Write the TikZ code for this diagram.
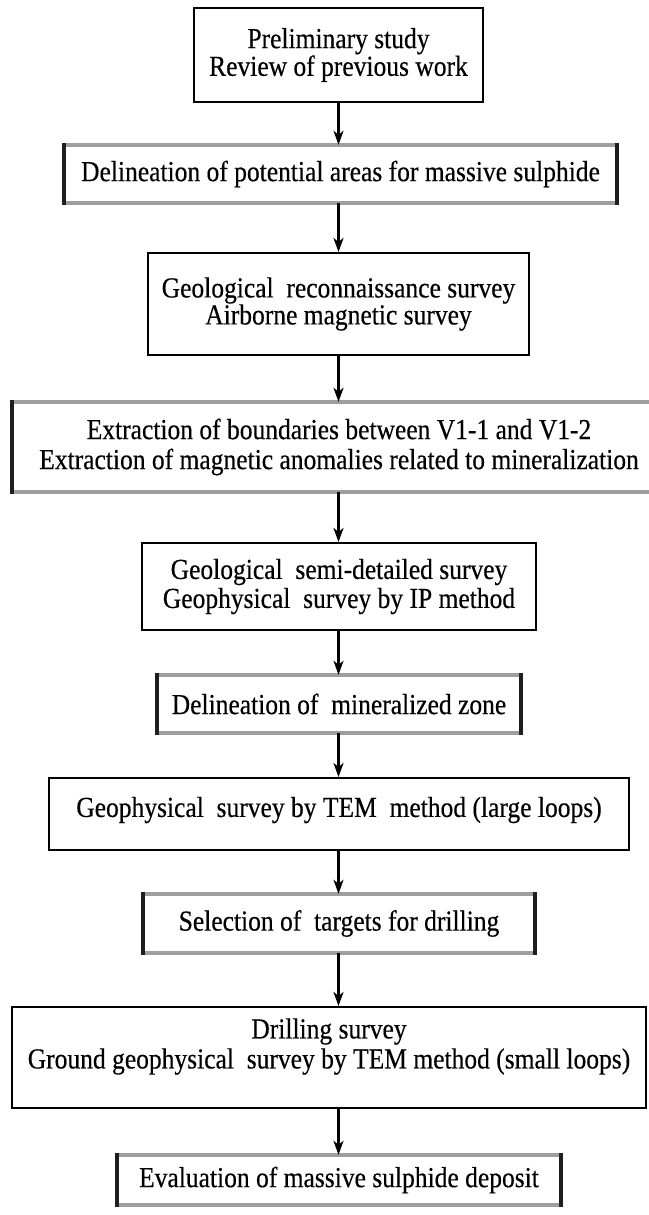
\documentclass[tikz,border=0pt]{standalone}
\usepackage{fontspec}
\setmainfont{Liberation Serif}[FakeStretch=0.88,FakeBold=0.4]
\usetikzlibrary{arrows.meta}
\begin{document}
\begin{tikzpicture}[x=1pt,y=-1pt,
  txt/.style={font=\fontsize{29}{29}\selectfont, align=center, inner sep=0pt},
  plainbox/.style={txt, draw=black, line width=2pt},
  shadedbox/.style={txt, draw=none},
  grayedge/.style={draw=black!38, line width=4.5pt},
  darkedge/.style={draw=black!88, line width=4pt},
  arr/.style={draw=black, line width=2.4pt, -{Stealth[length=14pt,width=10pt,inset=4pt]}}
]
\useasboundingbox (0,0) rectangle (648,1215);

\node[plainbox, minimum width=289pt, minimum height=94pt, font=\fontsize{29}{25}\selectfont]
  (b1) at (338.5,55) {Preliminary study\\Review of previous work};
\node[shadedbox, minimum width=553pt, minimum height=58pt]
  (b2) at (340.5,174) {Delineation of potential areas for massive sulphide};
\node[plainbox, minimum width=381pt, minimum height=102pt, font=\fontsize{29}{27}\selectfont]
  (b3) at (338.5,304) {Geological\ \ reconnaissance survey\\Airborne magnetic survey};
\node[shadedbox, minimum width=654pt, minimum height=90pt, font=\fontsize{29}{30}\selectfont]
  (b4) at (339,447) {Extraction of boundaries between V1-1 and V1-2\\Extraction of magnetic anomalies related to mineralization};
\node[plainbox, minimum width=394pt, minimum height=87pt]
  (b5) at (339,586.5) {Geological\ \ semi-detailed survey\\Geophysical\ \ survey by IP method};
\node[shadedbox, minimum width=364pt, minimum height=58pt]
  (b6) at (339,704) {Delineation of\ \ mineralized zone};
\node[plainbox, minimum width=580pt, minimum height=72pt]
  (b7) at (339,814) {};
\node[txt] (b7t) at ([yshift=4pt]b7.center) {Geophysical\ \ survey by TEM\ \ method (large loops)};
\node[shadedbox, minimum width=392pt, minimum height=59pt]
  (b8) at (339,923.5) {Selection of\ \ targets for drilling};
\node[plainbox, minimum width=634pt, minimum height=101pt]
  (b9) at (329,1057.5) {};
\node[txt, font=\fontsize{29}{30}\selectfont] (b9t) at ([yshift=11pt]b9.center)
  {Drilling survey\\Ground geophysical\ \ survey by TEM method (small loops)};
\node[shadedbox, minimum width=444pt, minimum height=50pt]
  (b10) at (339,1180) {Evaluation of massive sulphide deposit};

\foreach \n in {b2,b4,b6,b8,b10} {
  \draw[grayedge] ([xshift=-2pt]\n.north west) -- ([xshift=2pt]\n.north east);
  \draw[grayedge] ([xshift=-2pt]\n.south west) -- ([xshift=2pt]\n.south east);
  \draw[darkedge] ([yshift=2pt]\n.north west) -- ([yshift=-2pt]\n.south west);
  \draw[darkedge] ([yshift=2pt]\n.north east) -- ([yshift=-2pt]\n.south east);
}

\foreach \a/\b in {b1/b2,b2/b3,b3/b4,b4/b5,b5/b6,b6/b7,b7/b8,b8/b9,b9/b10} {
  \draw[arr] (\a.south -| b1.south) -- (b1.south |- \b.north);
}
\end{tikzpicture}
\end{document}
